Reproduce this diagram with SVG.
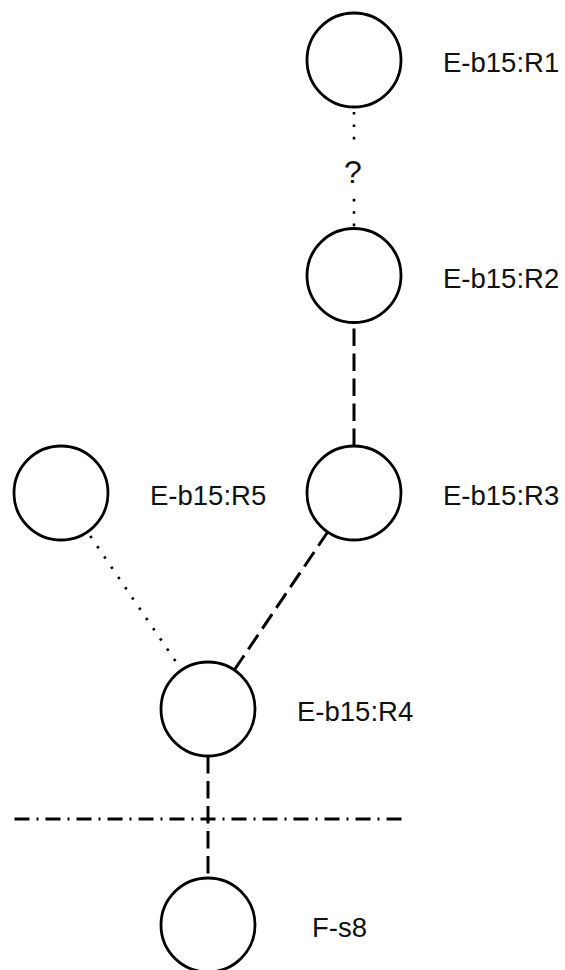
<svg xmlns="http://www.w3.org/2000/svg" width="565" height="970" viewBox="0 0 565 970">
<style>
.node circle{fill:#fff;stroke:#000;stroke-width:2.8}
.lbl{font-family:"Liberation Sans",Arial,sans-serif;font-size:27.5px;fill:#111}
.dot{stroke:#000;stroke-width:2.6;fill:none;stroke-dasharray:2.6 9.8;stroke-dashoffset:-5}
.dash{stroke:#000;stroke-width:3;fill:none;stroke-dasharray:17.5 7.5}
.dashdot{stroke:#000;stroke-width:3;fill:none;stroke-dasharray:15 7 2 7}
</style>
<rect width="565" height="970" fill="#fff"/>
<g id="connectors">
<line class="dot" x1="354" y1="107" x2="354" y2="228"/>
<rect x="338" y="141" width="32" height="56" fill="#fff"/>
<text class="lbl" x="353" y="183" text-anchor="middle" style="font-size:32px">?</text>
<line class="dash" x1="354" y1="446" x2="354" y2="322.5"/>
<line class="dash" x1="234.3" y1="670" x2="327.7" y2="532"/>
<line class="dot" x1="87.4" y1="531.8" x2="181.6" y2="670"/>
<line class="dash" x1="208" y1="756" x2="208" y2="878"/>
<line class="dashdot" x1="14.5" y1="819" x2="404" y2="819"/>
</g>
<g id="R1" class="node"><circle cx="354" cy="60" r="47"/><text class="lbl" x="443" y="72">E-b15:R1</text></g>
<g id="R2" class="node"><circle cx="354" cy="275.5" r="47"/><text class="lbl" x="443" y="287.5">E-b15:R2</text></g>
<g id="R3" class="node"><circle cx="354" cy="493" r="47"/><text class="lbl" x="443" y="505">E-b15:R3</text></g>
<g id="R5" class="node"><circle cx="61" cy="493" r="47"/><text class="lbl" x="150" y="505">E-b15:R5</text></g>
<g id="R4" class="node"><circle cx="208" cy="709" r="47"/><text class="lbl" x="297" y="721">E-b15:R4</text></g>
<g id="Fs8" class="node"><circle cx="208" cy="925" r="47"/><text class="lbl" x="312" y="937">F-s8</text></g>
</svg>
